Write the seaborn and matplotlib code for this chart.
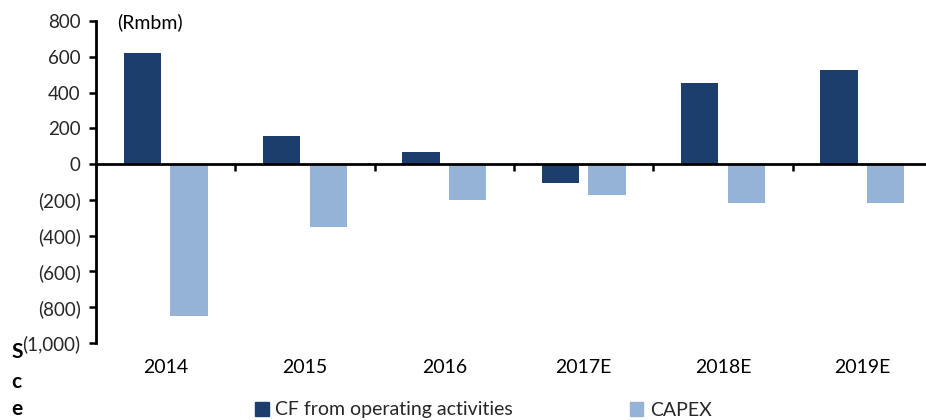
import matplotlib
matplotlib.use("Agg")
import matplotlib.pyplot as plt
import matplotlib.transforms as mtransforms
from matplotlib.ticker import FixedLocator, FuncFormatter
import numpy as np
import pandas as pd
import seaborn as sns

years = ["2014", "2015", "2016", "2017E", "2018E", "2019E"]
cf_operating = [620, 155, 65, -105, 455, 525]
capex = [-850, -350, -200, -170, -220, -220]
series_names = ["CF from operating activities", "CAPEX"]
y_ticks = [800, 600, 400, 200, 0, -200, -400, -600, -800, -1000]

df = pd.DataFrame({
    "year": years * 2,
    "value": cf_operating + capex,
    "series": [series_names[0]] * len(years) + [series_names[1]] * len(years),
})

sns.set_theme(style="white")
plt.rcParams["font.family"] = ["Lato", "DejaVu Sans"]

fig = plt.figure(figsize=(9.26, 4.2), dpi=100)
ax = fig.add_axes([96 / 926, 1 - 343 / 420, 836 / 926, (343 - 21) / 420])

palette = {series_names[0]: "#1C3E6D", series_names[1]: "#95B3D7"}
sns.barplot(data=df, x="year", y="value", hue="series", order=years,
            hue_order=series_names, palette=palette, width=0.67, gap=0.2,
            dodge=True, saturation=1, edgecolor="none", linewidth=0, ax=ax,
            legend=False)

ax.set_ylim(-1000, 800)
ax.set_xlim(-0.5, len(years) - 0.5)
ax.set_xlabel("")
ax.set_ylabel("")

# y axis with accounting-style negatives
ax.yaxis.set_major_locator(FixedLocator(y_ticks))
ax.yaxis.set_major_formatter(FuncFormatter(
    lambda v, _: f"({abs(int(v)):,})" if v < 0 else f"{int(v):,}"))
ax.tick_params(axis="y", direction="out", length=5, width=1.8, color="black",
               labelsize=13.5, pad=6, left=True)

# x axis drawn along zero, category boundaries marked with small ticks
for s in ["top", "right"]:
    ax.spines[s].set_visible(False)
ax.spines["left"].set_linewidth(2)
ax.spines["left"].set_color("black")
ax.spines["bottom"].set_position(("data", 0))
ax.spines["bottom"].set_linewidth(2)
ax.spines["bottom"].set_color("black")
ax.set_xticks(np.arange(len(years)))
ax.set_xticklabels([])
ax.tick_params(axis="x", which="major", length=0)
ax.set_xticks(np.arange(0.5, len(years) - 0.5), minor=True)
ax.tick_params(axis="x", which="minor", direction="out", length=5, width=1.8,
               color="black", bottom=True)

trans = mtransforms.blended_transform_factory(ax.transData, ax.transAxes)
for i, yr in enumerate(years):
    ax.text(i, -0.075, yr, transform=trans, ha="center", va="center",
            fontsize=14, color="black")

ax.text(0.025, 0.995, "(Rmbm)", transform=ax.transAxes, ha="left",
        va="center", fontsize=14, color="black")

# legend below the chart
handles = [plt.Rectangle((0, 0), 1, 1, color=palette[n]) for n in series_names]
fig.legend(handles, series_names, loc="center left",
           bbox_to_anchor=(255 / 926, 1 - 410 / 420), ncol=2, frameon=False,
           fontsize=14, handlelength=0.7, handleheight=0.7,
           handletextpad=0.35, columnspacing=6.0, borderaxespad=0,
           borderpad=0)

for yy, ch in zip([352, 382, 409], ["S", "c", "e"]):
    fig.text(11 / 926, 1 - yy / 420, ch, ha="left", va="center",
             fontsize=15, fontweight="bold", color="black")

fig.savefig("out.png", dpi=100)
